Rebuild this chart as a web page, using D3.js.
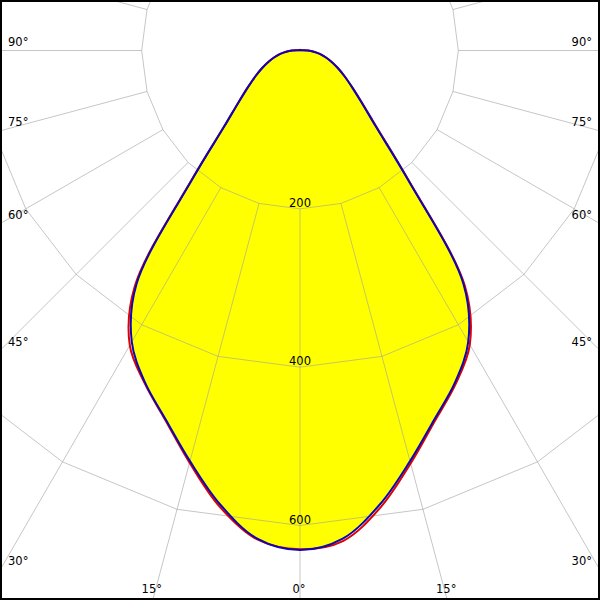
<!DOCTYPE html>
<html><head><meta charset="utf-8">
<script src="https://cdn.jsdelivr.net/npm/d3@7"></script>
<style>body{margin:0;background:#fff}svg{display:block}</style>
</head><body><svg id="c" width="600" height="600"></svg>
<script>
// gamma angles (deg from nadir), 0..180 step 5
const gammaAngles = d3.range(0, 181, 5);
// C90-C270 plane (blue), symmetric
const blueValues = [631, 619, 582, 537, 496, 463, 425, 360, 210, 135, 101, 80, 65, 53, 43, 34, 26, 17.5, 10, 4, 1.5, 1, 0.8, 0.8, 0.8, 0.8, 0.8, 0.8, 0.8, 0.8, 0.8, 0.8, 0.8, 0.8, 0.8, 0.8, 0.8];
// C0-C180 plane (red): left half C180, right half C0
const redLeftValues = [630, 620, 585, 539, 497, 464, 430, 364, 212, 135, 101, 80, 65, 53, 43, 34, 26, 17.5, 10, 4, 1.5, 1, 0.8, 0.8, 0.8, 0.8, 0.8, 0.8, 0.8, 0.8, 0.8, 0.8, 0.8, 0.8, 0.8, 0.8, 0.8];
const redRightValues = [631, 622, 586, 540, 498, 465, 429, 363, 212, 137, 102, 80, 65, 53, 43, 34, 26, 17.5, 10, 4, 1.5, 1, 0.8, 0.8, 0.8, 0.8, 0.8, 0.8, 0.8, 0.8, 0.8, 0.8, 0.8, 0.8, 0.8, 0.8, 0.8];
const ringValues = [200, 400, 600, 800];
const ringLabels = ["200", "400", "600"];
const angleTicks = [0, 15, 30, 45, 60, 75, 90];
const angleLabels = ["0°", "15°", "30°", "45°", "60°", "75°", "90°"];

const W = 600, H = 600, cx = 300, cy = 50.5;
const r = d3.scaleLinear().domain([0, 600]).range([0, 475]);
const svg = d3.select("#c");
const rad = d => d * Math.PI / 180;
function pt(g, v, s) { const a = rad(g); return [cx + s * r(v) * Math.sin(a), cy + r(v) * Math.cos(a)]; }

function loop(leftVals, rightVals) {
  const pts = [];
  for (let i = gammaAngles.length - 1; i >= 1; i--) pts.push(pt(gammaAngles[i], leftVals[i], -1));
  pts.push(pt(0, leftVals[0], 1));
  for (let i = 1; i < gammaAngles.length - 1; i++) pts.push(pt(gammaAngles[i], rightVals[i], 1));
  return pts;
}
const curveGen = d3.line().curve(d3.curveCatmullRomClosed.alpha(0.5));

// fill
svg.append("path").attr("d", curveGen(loop(blueValues, blueValues)))
  .attr("fill", "#ffff00").attr("stroke", "none");

// grid
const grid = svg.append("g").attr("stroke", "#a0a0a0").attr("stroke-opacity", 0.6).attr("fill", "none").attr("stroke-width", 1);
const polyGen = d3.line();
ringValues.forEach(v => {
  const pts = d3.range(0, 360, 15).map(a => pt(a, v, 1));
  grid.append("path").attr("d", polyGen(pts) + "Z");
});
d3.range(0, 360, 15).forEach(a => {
  const p0 = pt(a, ringValues[0], 1), p1 = pt(a, 1200, 1);
  grid.append("line").attr("x1", p0[0]).attr("y1", p0[1]).attr("x2", p1[0]).attr("y2", p1[1]);
});

// curves
svg.append("path").attr("d", curveGen(loop(redLeftValues, redRightValues)))
  .attr("fill", "none").attr("stroke", "#e00000").attr("stroke-width", 2);
svg.append("path").attr("d", curveGen(loop(blueValues, blueValues)))
  .attr("fill", "none").attr("stroke", "#0a0ab4").attr("stroke-width", 2);

// labels
const txt = svg.append("g").attr("font-family", "DejaVu Sans, Verdana, sans-serif").attr("font-size", 11.5).attr("fill", "#000");
ringLabels.forEach((l, i) => {
  const p = pt(0, ringValues[i], 1);
  txt.append("text").attr("x", cx).attr("y", p[1] - 2).attr("text-anchor", "middle").text(l);
});
angleTicks.forEach((t, i) => {
  [-1, 1].forEach(s => {
    if (t === 0 && s === 1) return;
    const a = rad(t);
    let sideY = t === 0 ? Infinity : cy + (W / 2) / Math.tan(a);
    if (sideY < 585) {
      txt.append("text").attr("x", s < 0 ? 8 : W - 8).attr("y", sideY - 5)
        .attr("text-anchor", s < 0 ? "start" : "end").text(angleLabels[i]);
    } else {
      const xe = cx + s * (H - cy) * Math.tan(a);
      txt.append("text").attr("x", xe - 1).attr("y", 593).attr("text-anchor", "middle").text(angleLabels[i]);
    }
  });
});

// frame
svg.append("rect").attr("x", 0).attr("y", 0).attr("width", W).attr("height", H)
  .attr("fill", "none").attr("stroke", "#000").attr("stroke-width", 4);
</script></body></html>
